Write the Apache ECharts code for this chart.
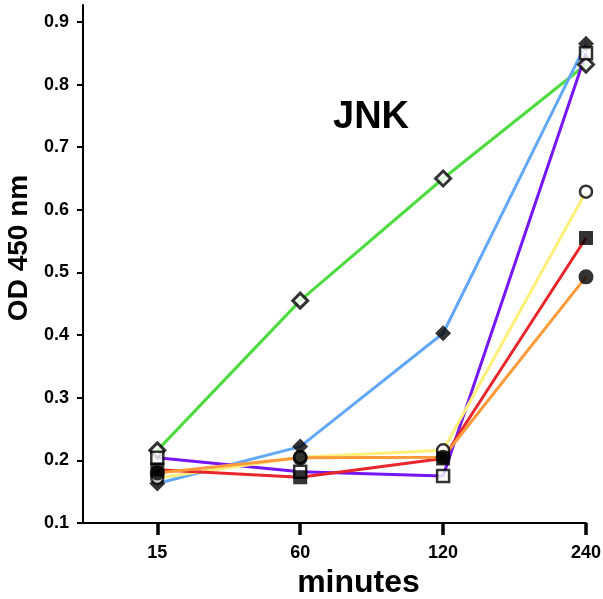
<!DOCTYPE html>
<html>
<head>
<meta charset="utf-8">
<script src="https://cdn.jsdelivr.net/npm/echarts@6/dist/echarts.min.js"></script>
<style>
html, body { margin: 0; padding: 0; background: #fff; }
#chart { width: 603px; height: 599px; }
</style>
</head>
<body>
<div id="chart"></div>
<script>
// time points (minutes)
var categories = ['15', '60', '120', '240'];
var yTicks = [0.1, 0.2, 0.3, 0.4, 0.5, 0.6, 0.7, 0.8, 0.9];

// OD 450 nm readings
var greenOpenDiamond = [0.216, 0.455, 0.650, 0.832];
var blueFilledDiamond = [0.163, 0.222, 0.403, 0.865];
var purpleOpenSquare = [0.204, 0.182, 0.175, 0.850];
var yellowOpenCircle = [0.172, 0.205, 0.216, 0.629];
var redFilledSquare = [0.185, 0.173, 0.203, 0.555];
var orangeFilledCircle = [0.180, 0.204, 0.205, 0.493];

var myChart = echarts.init(document.getElementById('chart'));

function pairs(arr) {
	var out = [];
	for (var i = 0; i < arr.length; i++) out.push([i, arr[i]]);
	return out;
}

var lines = [
	{ name: 'green', data: greenOpenDiamond, color: '#4ddb3f', symbol: 'diamond', size: 15, fill: '#fff', border: 3 },
	{ name: 'blue', data: blueFilledDiamond, color: '#63a8f7', symbol: 'diamond', size: 16, fill: '#000', border: 0 },
	{ name: 'purple', data: purpleOpenSquare, color: '#7417f2', symbol: 'rect', size: 12, fill: '#fff', border: 2.5 },
	{ name: 'yellow', data: yellowOpenCircle, color: '#fdf07a', symbol: 'circle', size: 12, fill: '#fff', border: 2.5 },
	{ name: 'red', data: redFilledSquare, color: '#e8262b', symbol: 'rect', size: 14, fill: '#000', border: 0 },
	{ name: 'orange', data: orangeFilledCircle, color: '#fe9a3a', symbol: 'circle', size: 15, fill: '#000', border: 0 }
];

var series = [];
// lines first
for (var i = 0; i < lines.length; i++) {
	series.push({
		name: lines[i].name,
		type: 'line',
		data: pairs(lines[i].data),
		symbol: 'none',
		lineStyle: { color: lines[i].color, width: 3 },
		z: 2,
		animation: false
	});
}
// markers on top
for (var j = 0; j < lines.length; j++) {
	series.push({
		name: lines[j].name + '-m',
		type: 'scatter',
		data: pairs(lines[j].data),
		symbol: lines[j].symbol,
		symbolSize: lines[j].size,
		itemStyle: {
			color: lines[j].fill,
			borderColor: '#000',
			borderWidth: lines[j].border
		},
		z: 5,
		animation: false
	});
}

var option = {
	backgroundColor: '#fff',
	animation: false,
	title: {
		text: 'JNK',
		left: 328,
		top: 94,
		textStyle: { fontFamily: 'Liberation Sans', fontWeight: 'bold', fontSize: 38, color: '#000' }
	},
	grid: { left: 83, right: 17, top: 5, bottom: 76, outerBoundsMode: 'none' },
	xAxis: {
		type: 'value',
		min: -0.52,
		max: 3,
		name: 'minutes',
		nameLocation: 'middle',
		nameGap: 44,
		nameTextStyle: { fontFamily: 'Liberation Sans', fontWeight: 'bold', fontSize: 32, color: '#000', padding: [0, 0, 0, 48] },
		splitLine: { show: false },
		axisLine: { show: true, onZero: false, lineStyle: { color: '#000', width: 2 } },
		axisTick: { show: true, length: 12, customValues: [0, 1, 2, 3], lineStyle: { color: '#000', width: 3.5 } },
		axisLabel: {
			customValues: [0, 1, 2, 3],
			margin: 21,
			fontFamily: 'Liberation Sans', fontWeight: 'bold', fontSize: 18, color: '#000',
			formatter: function (v) { return categories[Math.round(v)]; }
		}
	},
	yAxis: {
		type: 'value',
		min: 0.1,
		max: 0.927,
		name: 'OD 450 nm',
		nameLocation: 'middle',
		nameGap: 50,
		nameTextStyle: { fontFamily: 'Liberation Sans', fontWeight: 'bold', fontSize: 28, color: '#000', padding: [0, 0, 0, 32] },
		splitLine: { show: false },
		axisLine: { show: true, onZero: false, lineStyle: { color: '#000', width: 2 } },
		axisTick: { show: true, length: 6, customValues: yTicks, lineStyle: { color: '#000', width: 2 } },
		axisLabel: {
			customValues: yTicks,
			margin: 14,
			fontFamily: 'Liberation Sans', fontWeight: 'bold', fontSize: 18, color: '#000',
			formatter: function (v) { return v.toFixed(1); }
		}
	},
	series: series
};

myChart.setOption(option);
</script>
</body>
</html>
